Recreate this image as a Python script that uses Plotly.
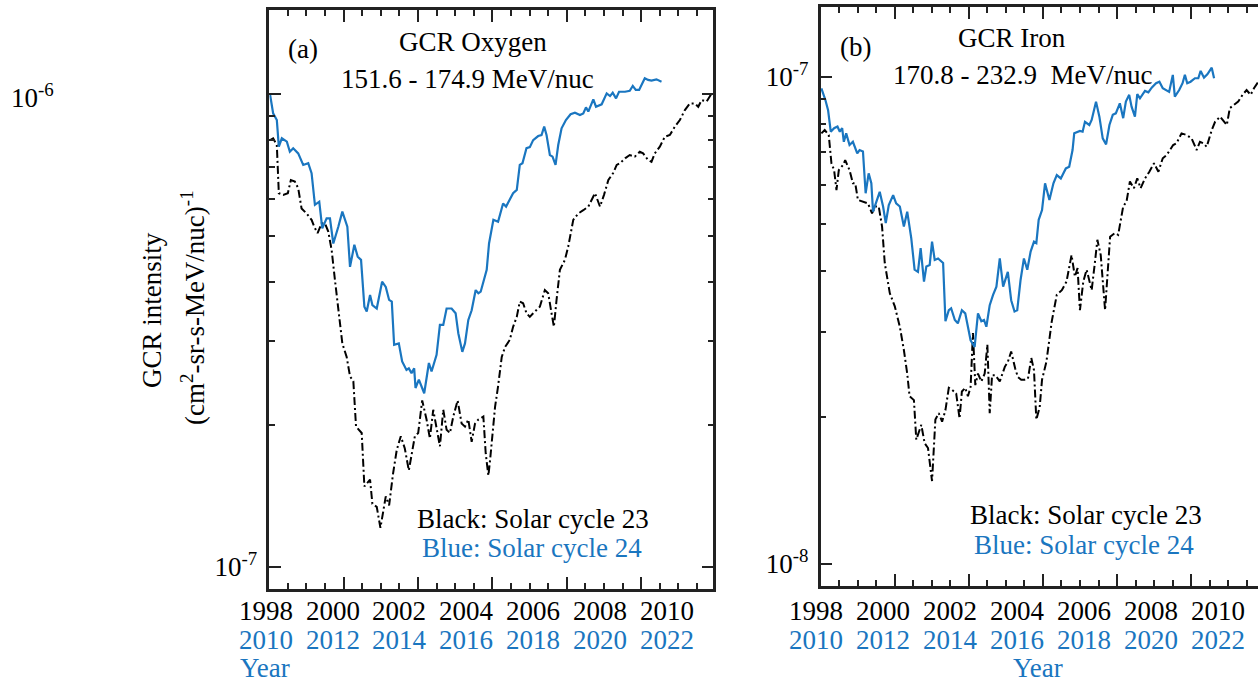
import plotly.graph_objects as go

# ---------------- data ----------------
# Oxygen 151.6-174.9 MeV/nuc, intensity in units of 1e-7 (cm^2-sr-s-MeV/nuc)^-1
o23_year = [1998.13, 1998.22, 1998.33, 1998.39, 1998.52, 1998.66, 1998.75, 1998.87, 1998.97, 1999.07,
            1999.22, 1999.37, 1999.45, 1999.55, 1999.67, 1999.77, 1999.87, 1999.97, 2000.07, 2000.17,
            2000.29, 2000.42, 2000.52, 2000.62, 2000.70, 2000.87, 2000.95, 2001.12, 2001.19, 2001.32,
            2001.43, 2001.59, 2001.69, 2001.81, 2001.92, 2002.04, 2002.16, 2002.28, 2002.36, 2002.46,
            2002.56, 2002.68, 2002.81, 2002.91, 2003.01, 2003.11, 2003.21, 2003.31, 2003.41, 2003.51,
            2003.61, 2003.74, 2003.86, 2003.96, 2004.06, 2004.16, 2004.26, 2004.36, 2004.51, 2004.58,
            2004.66, 2004.71, 2004.86, 2004.95, 2005.06, 2005.16, 2005.30, 2005.40, 2005.51, 2005.60,
            2005.70, 2005.80, 2005.90, 2006.00, 2006.10, 2006.20, 2006.35, 2006.45, 2006.55, 2006.62,
            2006.70, 2006.80, 2006.95, 2007.05, 2007.20, 2007.35, 2007.50, 2007.65, 2007.85, 2007.92,
            2008.00, 2008.12, 2008.25, 2008.39, 2008.50, 2008.60, 2008.75, 2008.89, 2009.04, 2009.19,
            2009.29, 2009.44, 2009.54, 2009.64, 2009.79, 2009.94, 2010.09, 2010.24, 2010.39, 2010.54,
            2010.69, 2010.84, 2010.94, 2011.04, 2011.19, 2011.34]
o23_flux = [7.99, 8.06, 7.80, 6.17, 6.12, 6.17, 6.58, 6.53, 6.32, 5.73,
            5.59, 5.42, 5.24, 5.08, 5.33, 5.33, 5.12, 4.68, 4.04, 3.49,
            2.97, 2.78, 2.53, 2.47, 1.98, 1.92, 1.48, 1.53, 1.36, 1.34,
            1.21, 1.41, 1.35, 1.58, 1.77, 1.89, 1.78, 1.60, 1.74, 1.89,
            1.92, 2.25, 2.05, 1.87, 2.15, 1.98, 1.80, 2.15, 1.95, 1.92,
            2.08, 2.25, 2.01, 1.98, 2.05, 1.84, 2.01, 2.05, 2.08, 1.74,
            1.56, 1.68, 2.18, 2.41, 2.78, 2.92, 3.02, 3.22, 3.38, 3.64,
            3.61, 3.44, 3.38, 3.44, 3.49, 3.55, 3.85, 3.79, 3.44, 3.22,
            3.67, 4.25, 4.46, 4.76, 5.42, 5.59, 5.68, 5.78, 6.17, 5.97,
            5.78, 6.12, 6.58, 6.80, 7.08, 7.14, 7.31, 7.43, 7.37, 7.55,
            7.49, 7.25, 7.19, 7.49, 7.74, 8.12, 8.19, 8.53, 8.81, 9.25,
            9.55, 9.55, 9.40, 9.71, 9.64, 10.03]

o24_year = [2010.13, 2010.22, 2010.33, 2010.39, 2010.48, 2010.63, 2010.72, 2010.82, 2010.97, 2011.12,
            2011.27, 2011.37, 2011.47, 2011.60, 2011.69, 2011.82, 2011.92, 2012.02, 2012.17, 2012.29,
            2012.44, 2012.52, 2012.65, 2012.75, 2012.85, 2012.95, 2013.02, 2013.12, 2013.19, 2013.32,
            2013.48, 2013.59, 2013.69, 2013.77, 2013.84, 2013.98, 2014.08, 2014.21, 2014.28, 2014.36,
            2014.44, 2014.48, 2014.58, 2014.68, 2014.74, 2014.88, 2014.96, 2015.11, 2015.21, 2015.31,
            2015.41, 2015.56, 2015.68, 2015.76, 2015.88, 2015.96, 2016.06, 2016.16, 2016.28, 2016.36,
            2016.43, 2016.61, 2016.68, 2016.81, 2016.95, 2017.10, 2017.19, 2017.40, 2017.51, 2017.60,
            2017.68, 2017.80, 2017.90, 2018.00, 2018.15, 2018.25, 2018.33, 2018.40, 2018.50, 2018.58,
            2018.67, 2018.75, 2018.85, 2018.98, 2019.12, 2019.25, 2019.40, 2019.50, 2019.58, 2019.65,
            2019.80, 2019.88, 2020.05, 2020.20, 2020.30, 2020.38, 2020.48, 2020.57, 2020.75, 2020.89,
            2020.98, 2021.07, 2021.17, 2021.34, 2021.44, 2021.54, 2021.69, 2021.84]
o24_flux = [9.95, 9.10, 8.81, 7.74, 8.06, 7.93, 7.55, 7.68, 7.49, 7.08,
            7.14, 6.80, 5.83, 5.92, 5.20, 5.46, 5.46, 4.83, 5.24, 5.64,
            5.24, 4.31, 4.80, 4.53, 4.46, 3.55, 3.47, 3.76, 3.58, 3.52,
            4.01, 3.91, 3.67, 3.64, 2.95, 2.97, 2.72, 2.61, 2.63, 2.57,
            2.63, 2.39, 2.49, 2.39, 2.33, 2.70, 2.59, 2.81, 3.25, 3.25,
            3.52, 3.52, 3.44, 3.12, 2.85, 2.97, 3.33, 3.49, 3.85, 3.79,
            3.82, 4.25, 4.83, 5.42, 5.37, 5.87, 5.78, 6.17, 6.27, 7.08,
            7.14, 7.68, 7.72, 7.99, 8.15, 8.19, 8.53, 8.19, 7.43, 7.37,
            7.08, 7.80, 8.46, 8.81, 9.06, 9.13, 9.03, 9.10, 9.37, 9.18,
            9.74, 9.40, 9.51, 10.03, 9.90, 10.06, 9.79, 10.11, 10.11, 10.16,
            10.40, 10.20, 10.20, 10.80, 10.71, 10.67, 10.74, 10.62]

# Iron 170.8-232.9 MeV/nuc, intensity in units of 1e-8 (cm^2-sr-s-MeV/nuc)^-1
fe23_year = [1998.16, 1998.26, 1998.38, 1998.46, 1998.54, 1998.61, 1998.68, 1998.81, 1998.87, 1999.00,
             1999.10, 1999.17, 1999.25, 1999.40, 1999.55, 1999.67, 1999.77, 1999.87, 1999.97, 2000.05,
             2000.20, 2000.35, 2000.50, 2000.62, 2000.72, 2000.79, 2000.92, 2000.99, 2001.14, 2001.24,
             2001.34, 2001.46, 2001.56, 2001.66, 2001.76, 2001.86, 2001.96, 2002.05, 2002.18, 2002.28,
             2002.35, 2002.45, 2002.53, 2002.61, 2002.68, 2002.75, 2002.83, 2002.93, 2003.03, 2003.11,
             2003.18, 2003.25, 2003.35, 2003.48, 2003.63, 2003.72, 2003.82, 2003.94, 2004.02, 2004.12,
             2004.22, 2004.32, 2004.42, 2004.50, 2004.57, 2004.67, 2004.74, 2004.87, 2005.03, 2005.18,
             2005.33, 2005.47, 2005.62, 2005.72, 2005.80, 2005.87, 2005.97, 2006.07, 2006.22, 2006.32,
             2006.39, 2006.49, 2006.62, 2006.77, 2006.91, 2007.01, 2007.16, 2007.26, 2007.36, 2007.48,
             2007.58, 2007.68, 2007.81, 2007.94, 2008.08, 2008.21, 2008.34, 2008.46, 2008.55, 2008.65,
             2008.75, 2008.90, 2009.05, 2009.20, 2009.35, 2009.45, 2009.55, 2009.65, 2009.80, 2009.90,
             2010.05, 2010.25, 2010.34, 2010.46, 2010.59, 2010.72, 2010.84, 2010.96, 2011.06, 2011.19]
fe23_flux = [7.66, 7.78, 7.60, 6.65, 6.44, 5.86, 6.44, 6.60, 6.75, 6.44,
             6.05, 6.05, 5.59, 5.55, 5.50, 5.25, 5.42, 5.42, 4.93, 4.15,
             3.60, 3.38, 3.07, 2.75, 2.46, 2.21, 2.17, 1.80, 1.93, 1.77,
             1.73, 1.48, 1.98, 2.04, 1.96, 2.07, 2.30, 2.28, 2.24, 1.99,
             2.26, 2.30, 2.21, 2.31, 2.98, 2.33, 2.46, 2.37, 2.46, 2.82,
             2.04, 2.44, 2.44, 2.37, 2.54, 2.60, 2.73, 2.52, 2.42, 2.39,
             2.39, 2.40, 2.65, 2.50, 1.98, 2.10, 2.39, 2.60, 3.15, 3.57,
             3.65, 3.80, 4.31, 3.89, 4.05, 3.32, 3.80, 4.02, 3.65, 4.18,
             4.63, 4.31, 3.32, 4.70, 4.78, 4.74, 5.42, 5.55, 6.10, 5.91,
             6.19, 5.91, 6.19, 6.39, 6.65, 6.39, 6.81, 6.92, 7.08, 7.25,
             7.31, 7.66, 7.60, 7.48, 7.08, 7.36, 7.31, 7.19, 7.78, 8.09,
             8.29, 7.97, 8.63, 8.76, 8.90, 9.19, 9.40, 9.19, 9.48, 9.78]

fe24_year = [2010.16, 2010.28, 2010.36, 2010.44, 2010.54, 2010.64, 2010.71, 2010.78, 2010.83, 2010.90,
             2011.00, 2011.10, 2011.23, 2011.30, 2011.40, 2011.48, 2011.57, 2011.65, 2011.70, 2011.83,
             2011.90, 2012.00, 2012.08, 2012.17, 2012.30, 2012.39, 2012.50, 2012.62, 2012.72, 2012.84,
             2012.94, 2013.04, 2013.12, 2013.22, 2013.29, 2013.39, 2013.46, 2013.54, 2013.64, 2013.79,
             2013.86, 2013.96, 2014.03, 2014.14, 2014.23, 2014.35, 2014.45, 2014.53, 2014.61, 2014.73,
             2014.83, 2014.93, 2015.01, 2015.08, 2015.18, 2015.28, 2015.38, 2015.48, 2015.58, 2015.72,
             2015.82, 2015.92, 2016.00, 2016.10, 2016.20, 2016.30, 2016.40, 2016.50, 2016.57, 2016.64,
             2016.74, 2016.83, 2016.96, 2017.08, 2017.18, 2017.30, 2017.45, 2017.55, 2017.65, 2017.70,
             2017.87, 2017.95, 2018.02, 2018.15, 2018.22, 2018.35, 2018.45, 2018.55, 2018.65, 2018.75,
             2018.85, 2018.94, 2019.06, 2019.16, 2019.24, 2019.34, 2019.41, 2019.51, 2019.58, 2019.66,
             2019.81, 2019.91, 2020.01, 2020.14, 2020.24, 2020.34, 2020.46, 2020.53, 2020.64, 2020.70,
             2020.83, 2020.93, 2021.00, 2021.07, 2021.17, 2021.30, 2021.40, 2021.47, 2021.57, 2021.67,
             2021.80, 2021.87]
fe24_flux = [9.48, 8.97, 8.55, 7.72, 7.85, 7.91, 7.72, 7.85, 7.36, 7.66,
             7.25, 7.36, 6.97, 7.08, 7.03, 5.77, 6.34, 6.05, 5.29, 5.59,
             5.81, 5.42, 5.01, 5.46, 5.72, 5.50, 5.42, 4.93, 5.29, 4.67,
             4.02, 3.98, 4.45, 3.80, 4.08, 4.11, 4.59, 4.21, 4.24, 4.15,
             3.15, 3.32, 3.35, 3.17, 3.12, 3.32, 3.27, 3.07, 2.88, 2.79,
             3.27, 3.15, 3.17, 3.07, 3.40, 3.57, 3.71, 4.24, 3.71, 3.98,
             3.48, 3.30, 3.32, 3.83, 4.24, 4.02, 4.38, 4.59, 4.56, 5.09,
             5.33, 6.05, 5.59, 6.05, 6.29, 6.19, 6.49, 6.54, 7.08, 7.66,
             7.75, 7.72, 8.09, 7.97, 8.16, 8.90, 8.29, 7.48, 7.27, 7.97,
             8.36, 8.42, 8.83, 8.23, 8.90, 9.19, 8.69, 8.29, 9.22, 9.04,
             9.36, 9.30, 9.51, 9.71, 9.78, 9.48, 9.40, 9.32, 10.10, 9.11,
             9.40, 9.71, 10.10, 9.71, 9.78, 9.94, 9.94, 10.29, 9.97, 10.13,
             10.45, 9.94]

CYCLE_SHIFT = 12            # cycle 24 is drawn on the cycle 23 time axis
label_years = [1998, 2000, 2002, 2004, 2006, 2008, 2010]

BLUE = "#1a76c0"
INK = "#222222"
FONT = "Liberation Serif"
FS = 27

W, H = 1258, 685


def px_x(p):
    return p / W


def px_y(p):
    return 1 - p / H


o24_x = [y - CYCLE_SHIFT for y in o24_year]
fe24_x = [y - CYCLE_SHIFT for y in fe24_year]

fig = go.Figure()

dashdot = "8px,3px,2px,3px"
fig.add_trace(go.Scatter(x=o23_year, y=[v * 1e-7 for v in o23_flux], mode="lines",
                         line=dict(color="black", width=2, dash=dashdot), xaxis="x", yaxis="y"))
fig.add_trace(go.Scatter(x=o24_x, y=[v * 1e-7 for v in o24_flux], mode="lines",
                         line=dict(color=BLUE, width=2.2), xaxis="x", yaxis="y"))
fig.add_trace(go.Scatter(x=fe23_year, y=[v * 1e-8 for v in fe23_flux], mode="lines",
                         line=dict(color="black", width=2, dash=dashdot), xaxis="x2", yaxis="y2"))
fig.add_trace(go.Scatter(x=fe24_x, y=[v * 1e-8 for v in fe24_flux], mode="lines",
                         line=dict(color=BLUE, width=2.2), xaxis="x2", yaxis="y2"))

# axis geometry
xa_range = [1998.105, 2011.39]
xb_range = [1998.14, 2011.18]
ya_range = [-7.0465, -5.8224]
yb_range = [-8.0446, -6.8563]
dom_xa = [px_x(269.3), px_x(713.3)]
dom_xb = [px_x(820.7), 1.0]
dom_ya = [px_y(589), px_y(10)]
dom_yb = [px_y(585.7), px_y(7)]

frame = dict(showline=True, linecolor=INK, linewidth=2.5, showgrid=False, zeroline=False,
             ticks="inside", ticklen=12, tickwidth=2, tickcolor=INK)


def x_frame(rng, dom, anchor, tick0, dtick):
    return dict(frame, range=rng, domain=dom, anchor=anchor, mirror="allticks",
                tickmode="linear", tick0=tick0, dtick=dtick, showticklabels=False,
                minor=dict(ticks="inside", ticklen=6, tickwidth=2, tickcolor=INK,
                           tickmode="linear", tick0=tick0, dtick=dtick / 4))


fig.update_layout(
    width=W, height=H, margin=dict(l=0, r=0, t=0, b=0),
    paper_bgcolor="white", plot_bgcolor="white", showlegend=False,
    font=dict(family=FONT, size=FS, color="black"),
    xaxis=x_frame(xa_range, dom_xa, "y", 1998.105, 2.2256),
    xaxis2=x_frame(xb_range, dom_xb, "y2", 1998.14, 2.2093),
    yaxis=dict(frame, type="log", range=ya_range, domain=dom_ya, anchor="x", mirror="allticks",
               tickmode="array", tickvals=[1e-7, 1e-6], ticktext=["10<sup>-7</sup>", ""],
               tickfont=dict(family=FONT, size=FS, color="black"), ticklabelstandoff=4,
               minor=dict(ticks="inside", ticklen=6, tickwidth=2, tickcolor=INK,
                          tickvals=[k * 1e-7 for k in range(2, 10)])),
    yaxis2=dict(frame, type="log", range=yb_range, domain=dom_yb, anchor="x2", mirror=False,
                tickmode="array", tickvals=[1e-8, 1e-7], ticktext=["10<sup>-8</sup>", "10<sup>-7</sup>"],
                tickfont=dict(family=FONT, size=FS, color="black"), ticklabelstandoff=4,
                minor=dict(ticks="inside", ticklen=6, tickwidth=2, tickcolor=INK,
                           tickvals=[k * 1e-8 for k in range(2, 10)])),
)


def note(text, x, y, color="black", xanchor="center", yanchor="middle", angle=0, size=FS):
    fig.add_annotation(text=text, x=x, y=px_y(y), xref="paper", yref="paper",
                       xanchor=xanchor, yanchor=yanchor, showarrow=False, textangle=angle,
                       font=dict(family=FONT, size=size, color=color))


def year_to_paper(yr, rng, dom):
    # place a year on the panel's x scale (in paper fraction)
    return dom[0] + (yr - rng[0]) / (rng[1] - rng[0]) * (dom[1] - dom[0])


# year labels under both panels: cycle 23 (black) and cycle 24 (blue)
for rng, dom in ((xa_range, dom_xa), (xb_range, dom_xb)):
    for yr in label_years:
        xp = year_to_paper(yr, rng, dom)
        note(str(yr), xp, 611)
        note(str(yr + CYCLE_SHIFT), xp, 640, color=BLUE)

# panel (a)
note("(a)", px_x(303), 49)
note("GCR Oxygen", px_x(473), 42)
note("151.6 - 174.9 MeV/nuc", px_x(467), 79)
note("Black: Solar cycle 23", px_x(533), 519)
note("Blue: Solar cycle 24", px_x(532), 548, color=BLUE)
note("Year", px_x(238), 685, color=BLUE, xanchor="left", yanchor="bottom")
note("10<sup>-6</sup>", px_x(32), 96)
note("GCR intensity", px_x(152), 310, angle=-90)
note("(cm<sup>2</sup>-sr-s-MeV/nuc)<sup>-1</sup>", px_x(193), 308, angle=-90)

# panel (b)
note("(b)", px_x(855), 47)
note("GCR Iron", px_x(1012), 38)
note("170.8 - 232.9\u00a0 MeV/nuc", px_x(1022), 75)
note("Black: Solar cycle 23", px_x(1086), 515)
note("Blue: Solar cycle 24", px_x(1084), 545, color=BLUE)
note("Year", px_x(1038), 685, color=BLUE, yanchor="bottom")

fig.write_html("out.html")
